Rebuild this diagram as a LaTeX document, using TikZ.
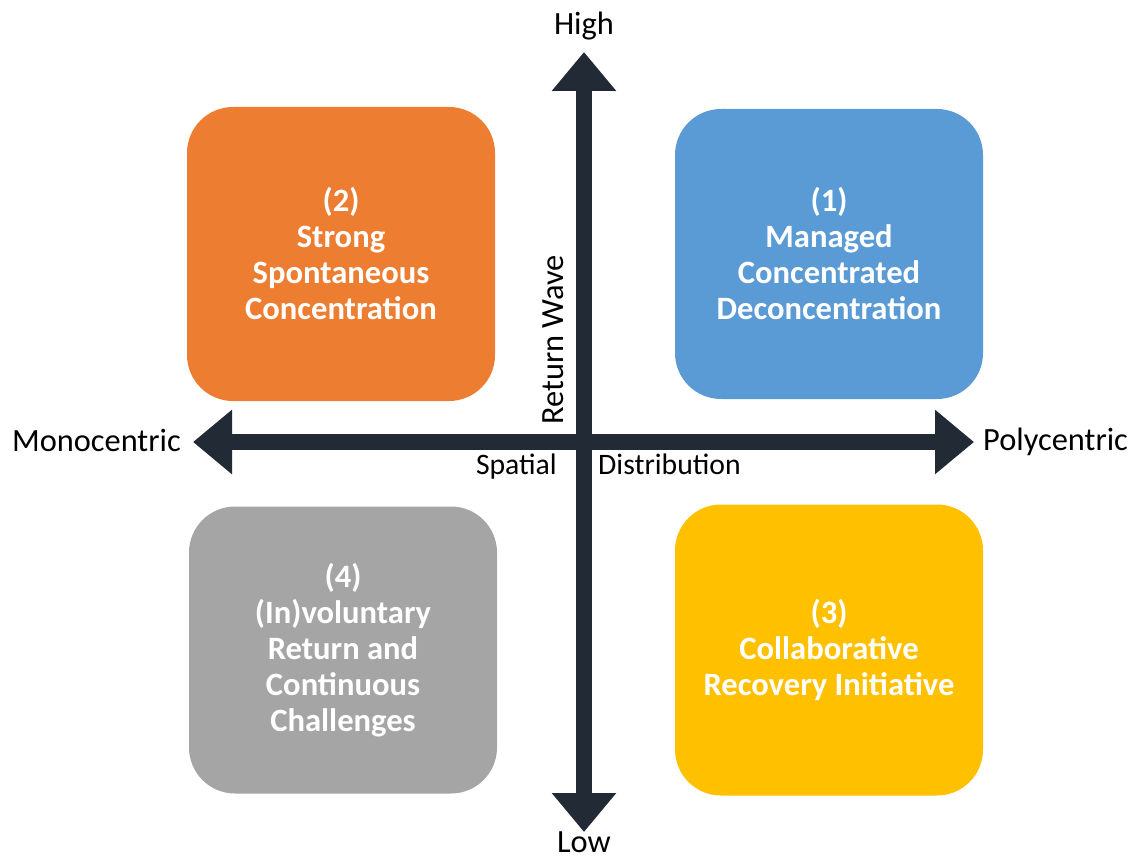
\documentclass[tikz,border=0pt]{standalone}
\usepackage{fontspec}
\setmainfont{Carlito}
\usetikzlibrary{arrows.meta}
\definecolor{qblue}{HTML}{5B9BD5}
\definecolor{qorange}{HTML}{ED7D31}
\definecolor{qgray}{HTML}{A5A5A5}
\definecolor{qyellow}{HTML}{FFC000}
\definecolor{axisdark}{HTML}{222A35}

\begin{document}
\begin{tikzpicture}[x=1pt, y=-1pt]
        \tikzstyle{quad}=[rounded corners=46pt, minimum width=308pt, text width=300pt, align=flush center, text=white, inner sep=4pt, font=\bfseries\fontsize{32.6}{36}\selectfont]
        \tikzstyle{axis}=[line width=15.5pt, draw=axisdark, {Triangle[width=62pt,length=39pt]}-{Triangle[width=62pt,length=39pt]}]
        \tikzstyle{lbl}=[inner sep=0pt, font=\fontsize{32.4}{36}\selectfont]
        \tikzstyle{sublbl}=[inner sep=0pt, font=\fontsize{29.7}{34}\selectfont]
        \useasboundingbox (0,0) rectangle (1131,856);
        % quadrants
        \node [quad, fill=qorange, minimum height=294pt] (q2) at (341,254) {(2)\\Strong\\Spontaneous\\Concentration};
        \node [quad, fill=qblue, minimum height=290pt] (q1) at (829,254) {(1)\\Managed\\Concentrated\\Deconcentration};
        \node [quad, fill=qgray, minimum height=287pt] (q4) at (343,650) {(4)\\(In)voluntary\\Return and\\Continuous\\Challenges};
        \node [quad, fill=qyellow, minimum height=291pt] (q3) at (829,650) {(3)\\Collaborative\\Recovery Initiative};
        % axes
        \coordinate (top) at (584,52);
        \coordinate (bottom) at (584,832);
        \coordinate (left) at (193,442);
        \coordinate (right) at (974,442);
        \draw [axis] (bottom) -- (top);
        \draw [axis] (left) -- (right);
        \node [lbl, anchor=base] (high) at (584,35) {High};
        \node [lbl, anchor=base] (low) at (584,852) {Low};
        \node [lbl, anchor=base east] (mono) at (181,451) {Monocentric};
        \node [lbl, anchor=base west] (poly) at (983,450) {Polycentric};
        \node [lbl, anchor=base, rotate=90] (wave) at (563,340) {Return Wave};
        \node [sublbl, anchor=base east] (spatial) at (557,474) {Spatial};
        \node [sublbl, anchor=base west] (distr) at (598,474) {Distribution};
\end{tikzpicture}
\end{document}
